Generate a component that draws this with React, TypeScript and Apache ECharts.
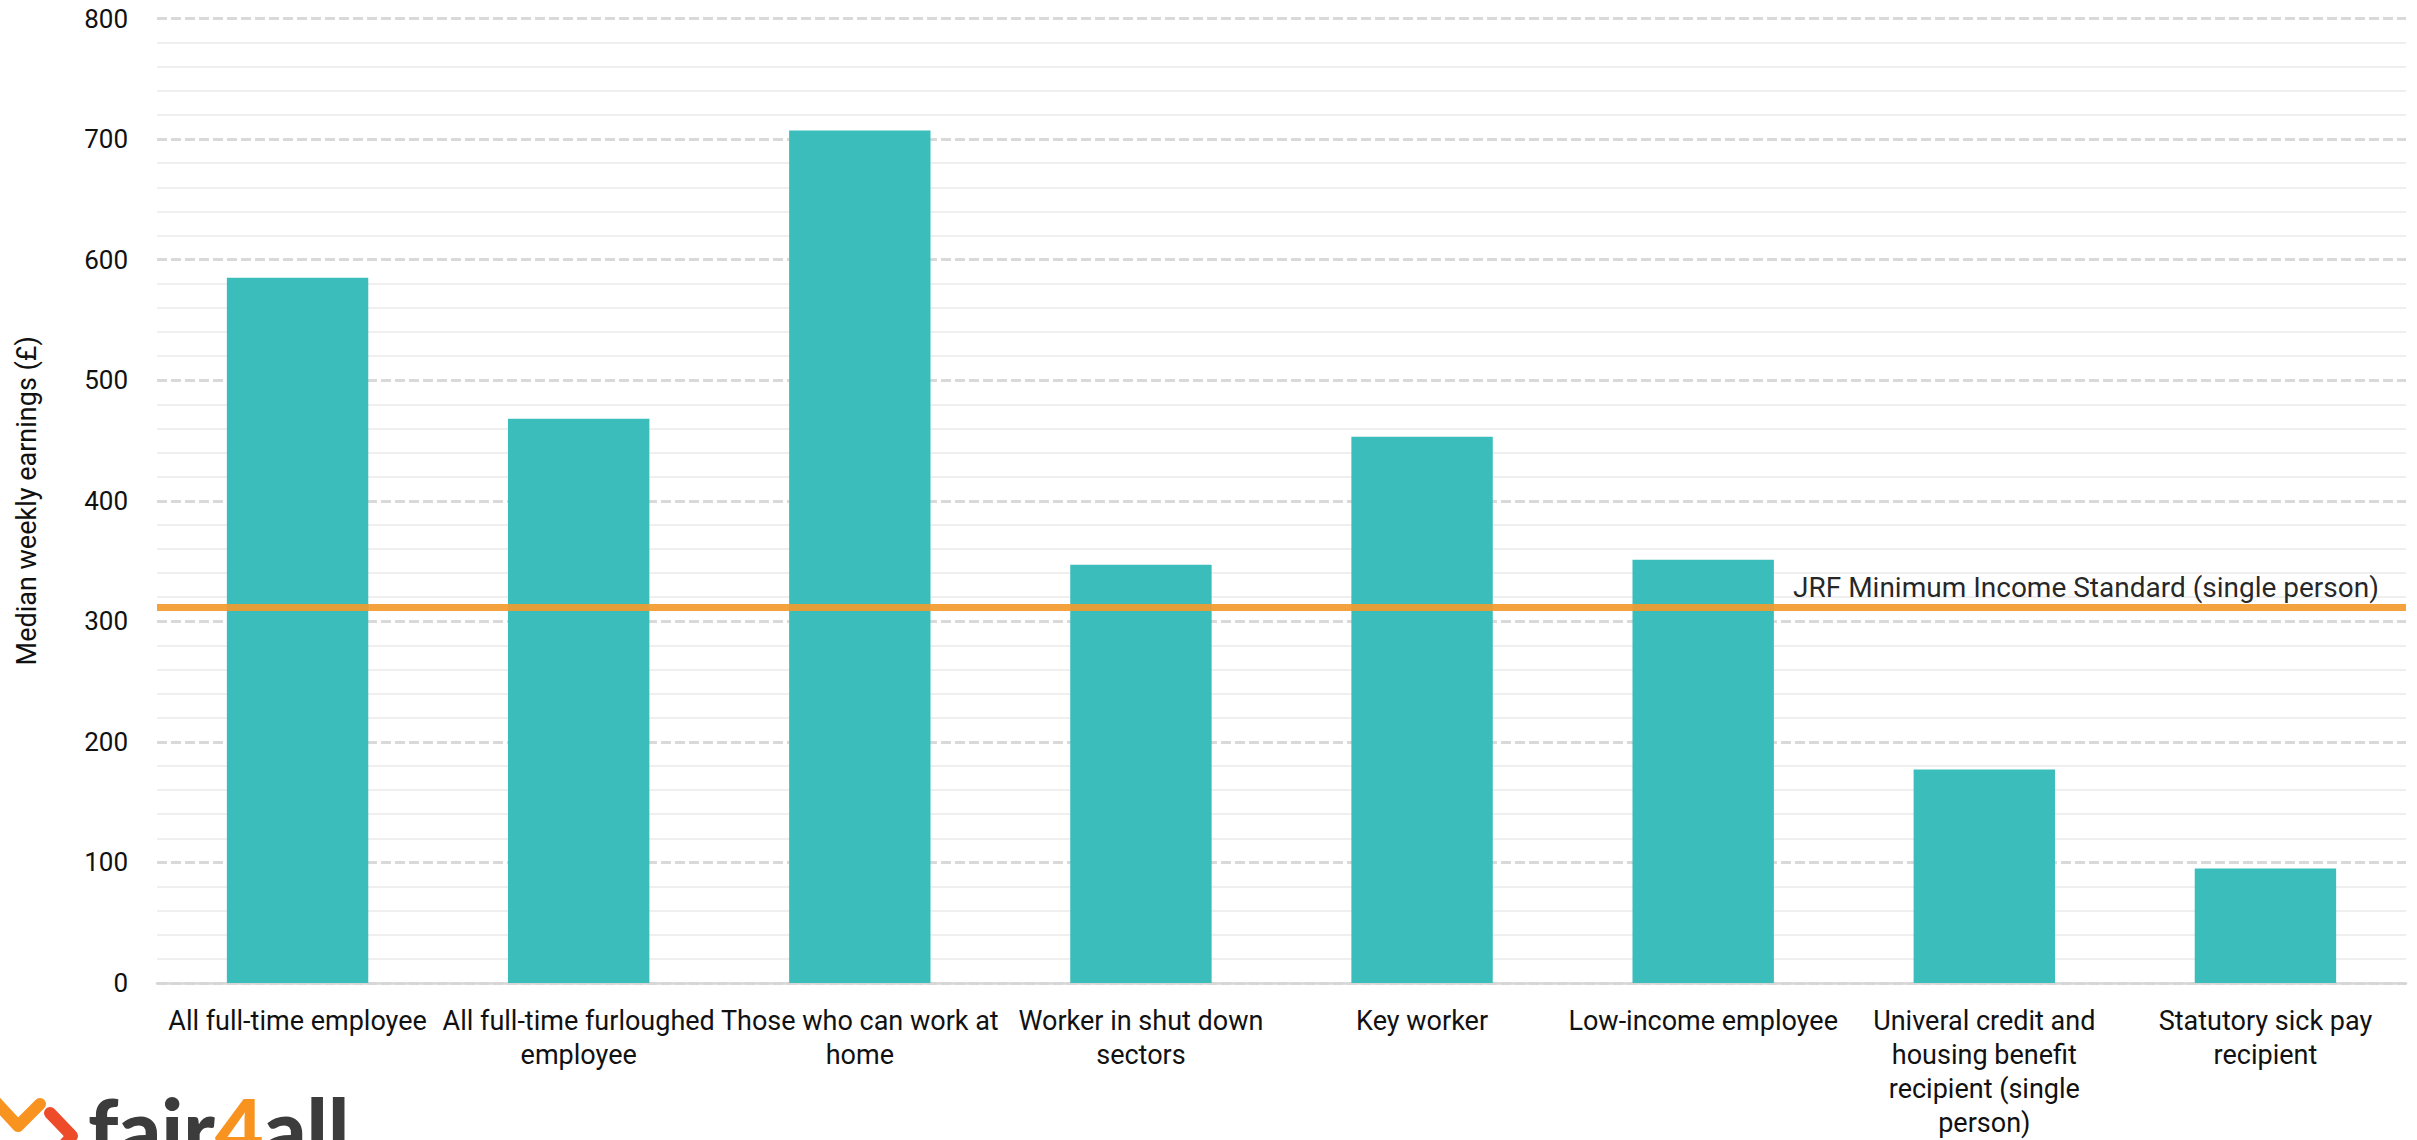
import React, { useEffect, useRef } from "react";
import * as echarts from "echarts";

const categories = [
  "All full-time employee",
  "All full-time furloughed\nemployee",
  "Those who can work at\nhome",
  "Worker in shut down\nsectors",
  "Key worker",
  "Low-income employee",
  "Univeral credit and\nhousing benefit\nrecipient (single\nperson)",
  "Statutory sick pay\nrecipient",
];
const earnings = [585, 468, 707, 347, 453, 351, 177, 95];
const minimumIncomeStandard = 312;
const minimumIncomeLabel = "JRF Minimum Income Standard (single person)";
const yTicks = { min: 0, max: 800, interval: 100 };
const yAxisTitle = "Median weekly earnings (£)";

export default function App() {
  const ref = useRef<HTMLDivElement>(null);
  useEffect(() => {
    document.body.style.margin = "0";
    if (!ref.current) return;
    const chart = echarts.init(ref.current, undefined, { renderer: "svg" });
    const font = "Roboto";
    chart.setOption({
      animation: false,
      backgroundColor: "#ffffff",
      textStyle: { fontFamily: font },
      grid: { left: 157, right: 11, top: 18.5, bottom: 156, containLabel: false },
      xAxis: {
        type: "category",
        data: categories,
        axisLine: { show: true, lineStyle: { color: "#d6d6d6", width: 2.5 } },
        axisTick: { show: false },
        axisLabel: {
          interval: 0,
          color: "#111111",
          fontFamily: font,
          fontSize: 27,
          lineHeight: 34,
          margin: 21,
        },
      },
      yAxis: {
        type: "value",
        min: yTicks.min,
        max: yTicks.max,
        interval: yTicks.interval,
        name: yAxisTitle,
        nameLocation: "middle",
        nameGap: 117,
        nameTextStyle: { color: "#111111", fontFamily: font, fontSize: 27 },
        axisLine: { show: false },
        axisTick: { show: false },
        axisLabel: { color: "#111111", fontFamily: font, fontSize: 26, margin: 29 },
        splitLine: {
          show: true,
          lineStyle: { color: "#d9d9d9", width: 3, type: [10, 4] },
        },
        minorTick: { show: false, splitNumber: 5 },
        minorSplitLine: { show: true, lineStyle: { color: "#efefef", width: 2 } },
      },
      series: [
        {
          type: "bar",
          data: earnings,
          barWidth: "50.3%",
          itemStyle: { color: "#3BBEBB" },
          z: 2,
          markLine: {
            silent: true,
            symbol: "none",
            z: 5,
            lineStyle: { color: "#F29A2E", width: 7, type: "solid", opacity: 0.92 },
            label: {
              show: true,
              position: "insideEndTop",
              formatter: minimumIncomeLabel,
              color: "#111111",
              fontFamily: font,
              fontSize: 28,
              distance: [27, 5],
            },
            data: [{ yAxis: minimumIncomeStandard }],
          },
        },
      ],
      graphic: [
        {
          type: "polyline",
          shape: { points: [[-6, 1100], [18, 1126], [40, 1104]] },
          style: { stroke: "#F7931E", lineWidth: 12, lineCap: "round", lineJoin: "round", fill: null },
        },
        {
          type: "polyline",
          shape: { points: [[50, 1113], [72, 1136], [50, 1160]] },
          style: { stroke: "#EE4B2B", lineWidth: 12, lineCap: "round", lineJoin: "round", fill: null },
        },
        {
          type: "text",
          x: 88,
          y: 1127,
          style: {
            text: "{a|fair}{b|4}{a|all}",
            align: "left",
            verticalAlign: "middle",
            rich: {
              a: { fontFamily: "Lato", fontWeight: 900, fontSize: 84, fill: "#3c3c3c", color: "#3c3c3c" },
              b: { fontFamily: "Lato", fontWeight: 900, fontSize: 84, fill: "#F7931E", color: "#F7931E" },
            },
          },
        },
      ],
    });
    return () => chart.dispose();
  }, []);
  return <div ref={ref} style={{ width: 2417, height: 1140 }} />;
}
